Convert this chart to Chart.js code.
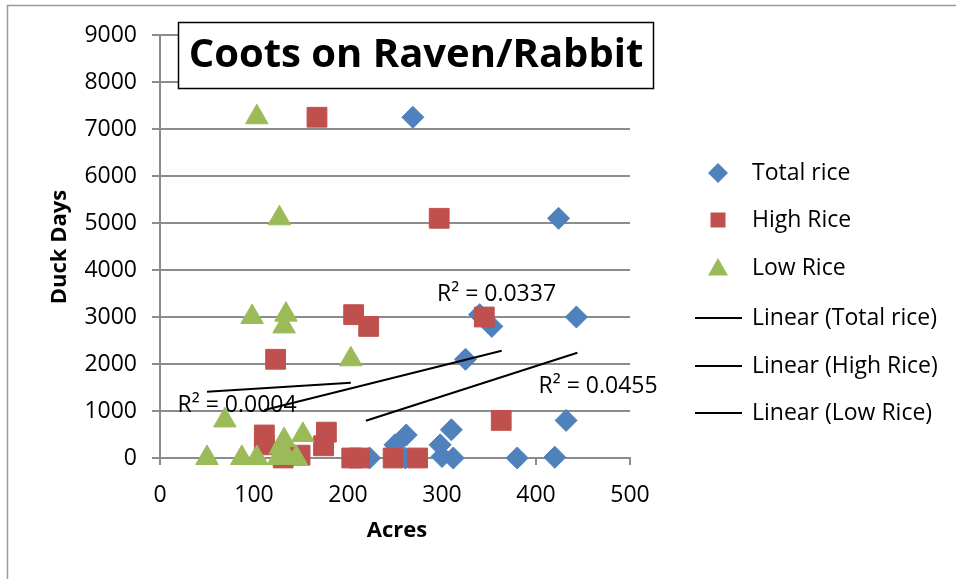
<!DOCTYPE html>
<html>
<head>
<meta charset="utf-8">
<script src="https://cdn.jsdelivr.net/npm/chart.js@4"></script>
<style>
  body { margin: 0; background: #fff; }
  canvas { display: block; }
</style>
</head>
<body>
<canvas id="cootChart" width="956" height="579"></canvas>
<script>
// values
const totalAcres = [269, 424, 340, 353, 443, 325, 223, 250, 261, 262, 298, 300, 310, 312, 380, 420, 432];
const totalDays  = [7250, 5100, 3050, 2800, 3000, 2100, 0, 280, 0, 490, 280, 30, 600, 0, 0, 15, 800];

const highAcres = [167, 297, 206, 222, 123, 345, 111, 111, 177, 174, 131, 149, 204, 212, 248, 274, 363];
const highDays  = [7250, 5100, 3050, 2800, 2100, 3000, 490, 280, 550, 260, 0, 60, 0, 0, 0, 0, 800];

const lowAcres = [103, 127, 98, 134, 132, 203, 69, 50, 87, 103, 132, 152, 128, 135, 145, 126];
const lowDays  = [7250, 5100, 3000, 3050, 2800, 2100, 800, 0, 0, 0, 380, 490, 230, 30, 0, 0];

// trend line end points (as drawn in the picture)
const trendTotalX = [219, 444], trendTotalY = [794, 2240];
const trendHighX = [111, 363.5], trendHighY = [1021, 2283];
const trendLowX = [50, 203], trendLowY = [1411, 1602];

const r2Labels = ['R² = 0.0337', 'R² = 0.0455', 'R² = 0.0004'];
const r2X = [358, 466, 82];
const r2Y = [3490, 1517, 1128];

const xTicks = [0, 100, 200, 300, 400, 500];
const yTicks = [0, 1000, 2000, 3000, 4000, 5000, 6000, 7000, 8000, 9000];

const chartTitle = 'Coots on Raven/Rabbit';
const xTitle = 'Acres';
const yTitle = 'Duck Days';

const BLUE = '#4f81bd', RED = '#c0504d', GREEN = '#9bbb59';
const GRID = '#8c8c8c';
const FONT = "'Open Sans', sans-serif";

function pts(xs, ys) {
    return xs.map((x, i) => ({ x: x, y: ys[i] }));
}

// small marker for the legend, same shapes as the points
function marker(c, style, x, y, r) {
    c.beginPath();
    if (style === 'rectRot') {
        c.moveTo(x, y - r);
        c.lineTo(x + r, y);
        c.lineTo(x, y + r);
        c.lineTo(x - r, y);
    } else if (style === 'rect') {
        c.rect(x - r * 0.75, y - r * 0.75, r * 1.5, r * 1.5);
    } else {
        c.moveTo(x, y - r);
        c.lineTo(x + r, y + r * 0.75);
        c.lineTo(x - r, y + r * 0.75);
    }
    c.closePath();
    c.fill();
}

const decor = {
    id: 'decor',
    beforeDraw(chart) {
        const c = chart.ctx;
        c.save();
        c.fillStyle = '#fff';
        c.fillRect(0, 0, chart.width, chart.height);
        c.restore();
    },
    afterDraw(chart) {
        const c = chart.ctx;
        const xs = chart.scales.x, ys = chart.scales.y;
        c.save();

        // outer frame (only left and top edges are in the picture)
        c.strokeStyle = '#9a9a9a';
        c.lineWidth = 1.5;
        c.beginPath();
        c.moveTo(7.5, chart.height);
        c.lineTo(7.5, 5.5);
        c.lineTo(chart.width, 5.5);
        c.stroke();

        // R² labels
        c.fillStyle = '#000';
        c.font = '23px ' + FONT;
        c.textAlign = 'center';
        c.textBaseline = 'middle';
        r2Labels.forEach((t, i) => {
            c.fillText(t, xs.getPixelForValue(r2X[i]), ys.getPixelForValue(r2Y[i]));
        });

        // title box
        c.fillStyle = '#fff';
        c.fillRect(178, 22, 475, 66);
        c.strokeStyle = '#000';
        c.lineWidth = 1.5;
        c.strokeRect(178.5, 22.5, 475, 66);
        c.fillStyle = '#000';
        c.font = 'bold 40px ' + FONT;
        c.fillText(chartTitle, 416, 56);

        // axis titles
        c.font = 'bold 22px ' + FONT;
        c.fillText(xTitle, 397, 531);
        c.save();
        c.translate(60, 247);
        c.rotate(-Math.PI / 2);
        c.fillText(yTitle, 0, 0);
        c.restore();

        // legend
        const rows = [173, 220, 268, 318, 366, 413];
        c.font = '23px ' + FONT;
        c.textAlign = 'left';
        chart.data.datasets.forEach((ds, i) => {
            const y = rows[i];
            if (ds.showLine) {
                c.strokeStyle = '#000';
                c.lineWidth = 2;
                c.beginPath();
                c.moveTo(695, y);
                c.lineTo(742, y);
                c.stroke();
            } else {
                c.fillStyle = ds.backgroundColor;
                marker(c, ds.pointStyle, 718, y, 10);
            }
            c.fillStyle = '#000';
            c.fillText(ds.label, 752, y);
        });
        c.restore();
    }
};

const ctx = document.getElementById('cootChart').getContext('2d');

new Chart(ctx, {
    type: 'scatter',
    plugins: [decor],
    data: {
        datasets: [{
            label: 'Total rice',
            data: pts(totalAcres, totalDays),
            pointStyle: 'rectRot',
            pointRadius: 11,
            backgroundColor: BLUE,
            borderColor: BLUE,
            clip: false,
            order: 3
        }, {
            label: 'High Rice',
            data: pts(highAcres, highDays),
            pointStyle: 'rect',
            pointRadius: 14,
            backgroundColor: RED,
            borderColor: RED,
            clip: false,
            order: 2
        }, {
            label: 'Low Rice',
            data: pts(lowAcres, lowDays),
            pointStyle: 'triangle',
            pointRadius: 13,
            backgroundColor: GREEN,
            borderColor: GREEN,
            clip: false,
            order: 1
        }, {
            label: 'Linear (Total rice)',
            data: pts(trendTotalX, trendTotalY),
            showLine: true,
            pointRadius: 0,
            borderColor: '#000',
            borderWidth: 2,
            order: 0
        }, {
            label: 'Linear (High Rice)',
            data: pts(trendHighX, trendHighY),
            showLine: true,
            pointRadius: 0,
            borderColor: '#000',
            borderWidth: 2,
            order: 0
        }, {
            label: 'Linear (Low Rice)',
            data: pts(trendLowX, trendLowY),
            showLine: true,
            pointRadius: 0,
            borderColor: '#000',
            borderWidth: 2,
            order: 0
        }]
    },
    options: {
        responsive: false,
        animation: false,
        layout: { padding: { left: 0, top: 35, right: 326, bottom: 0 } },
        plugins: {
            legend: { display: false },
            tooltip: { enabled: false }
        },
        scales: {
            x: {
                type: 'linear',
                min: 0,
                max: 500,
                afterBuildTicks: function (scale) {
                    scale.ticks = xTicks.map(v => ({ value: v }));
                },
                afterFit: function (scale) { scale.height = 121; },
                ticks: {
                    color: '#000',
                    padding: 17,
                    font: { family: FONT, size: 23 }
                },
                grid: {
                    drawOnChartArea: false,
                    color: GRID,
                    lineWidth: 2,
                    tickLength: 7
                },
                border: { display: true, color: GRID, width: 2 }
            },
            y: {
                type: 'linear',
                min: 0,
                max: 9000,
                afterBuildTicks: function (scale) {
                    scale.ticks = yTicks.map(v => ({ value: v }));
                },
                afterFit: function (scale) { scale.width = 160; },
                ticks: {
                    color: '#000',
                    padding: 15,
                    font: { family: FONT, size: 23 },
                    callback: function (value) { return String(value); }
                },
                grid: {
                    color: GRID,
                    lineWidth: 2,
                    tickLength: 8
                },
                border: { display: true, color: GRID, width: 2 }
            }
        }
    }
});
</script>
</body>
</html>
